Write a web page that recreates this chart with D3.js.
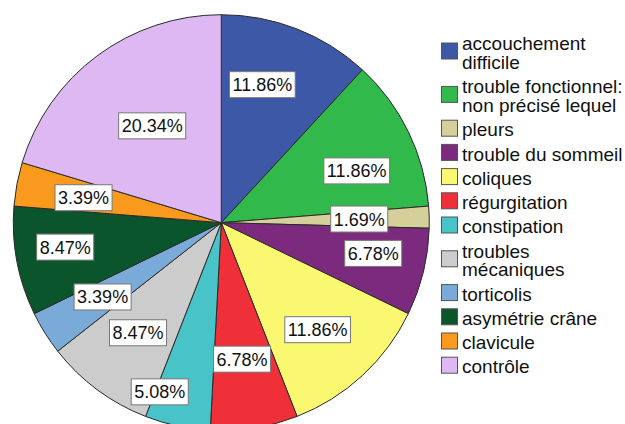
<!DOCTYPE html>
<html>
<head>
<meta charset="utf-8">
<script src="https://cdn.jsdelivr.net/npm/d3@7"></script>
<style>
  body { margin: 0; background: #fff; }
  svg { display: block; font-family: "Liberation Sans", Arial, sans-serif; }
</style>
</head>
<body>
<svg width="625" height="424"></svg>
<script>
// categories in clockwise order starting from 12 o'clock
var categories = [
  "accouchement difficile",
  "trouble fonctionnel: non précisé lequel",
  "pleurs",
  "trouble du sommeil",
  "coliques",
  "régurgitation",
  "constipation",
  "troubles mécaniques",
  "torticolis",
  "asymétrie crâne",
  "clavicule",
  "contrôle"
];
// legend wording (line breaks as in the chart)
var legendLines = [
  ["accouchement", "difficile"],
  ["trouble fonctionnel:", "non précisé lequel"],
  ["pleurs"],
  ["trouble du sommeil"],
  ["coliques"],
  ["régurgitation"],
  ["constipation"],
  ["troubles", "mécaniques"],
  ["torticolis"],
  ["asymétrie crâne"],
  ["clavicule"],
  ["contrôle"]
];
// counts (n = 59), shown as percentages
var counts = [7, 7, 1, 4, 7, 4, 3, 5, 2, 5, 2, 12];
var colors = ["#3e58a8", "#31b94c", "#d5d09a", "#7b2a7d", "#f9f870", "#ef3038",
              "#48c3c8", "#cccccc", "#7aaad8", "#0a552c", "#f99a1f", "#deb8f2"];

// label placement tweaks (angle in degrees, radius in px), layout only
var labelNudge = [
  {da: -4.8, r: 144}, {da: 5, r: 145}, {da: 0, r: 138}, {da: -2.3, r: 155},
  {da: 0.7, r: 144}, {da: 0.5, r: 138}, {da: 7.8, r: 180}, {da: 0.5, r: 138},
  {da: 0, r: 140}, {da: 1.8, r: 158}, {da: -0.4, r: 140}, {da: 1.1, r: 119}
];

var svg = d3.select("svg");
var cx = 221.3, cy = 222.7, R = 208;
var total = d3.sum(counts);
var fmt = d => (d / total * 100).toFixed(2) + "%";

var pie = d3.pie().sort(null).value(d => d)(counts);
var arc = d3.arc().innerRadius(0).outerRadius(R);

var g = svg.append("g").attr("transform", "translate(" + cx + "," + cy + ")");

g.selectAll("path.slice")
  .data(pie).enter().append("path")
  .attr("class", "slice")
  .attr("d", arc)
  .attr("fill", (d, i) => colors[i])
  .attr("stroke", "#2b2b2b")
  .attr("stroke-width", 1)
  .attr("stroke-linejoin", "round");

// percentage labels in white boxes
var lab = g.selectAll("g.lab")
  .data(pie).enter().append("g")
  .attr("class", "lab")
  .attr("transform", (d, i) => {
    var a = (d.startAngle + d.endAngle) / 2 + labelNudge[i].da * Math.PI / 180;
    var r = labelNudge[i].r;
    return "translate(" + (r * Math.sin(a)) + "," + (-r * Math.cos(a)) + ")";
  });

lab.append("rect");
lab.append("text")
  .attr("text-anchor", "middle")
  .attr("y", 6.5)
  .attr("font-size", 18)
  .attr("fill", "#111")
  .text(d => fmt(d.data));

lab.each(function() {
  var t = d3.select(this).select("text");
  var w = t.node().getComputedTextLength() + 6;
  var h = 26;
  d3.select(this).select("rect")
    .attr("x", -w / 2).attr("y", -h / 2)
    .attr("width", w).attr("height", h)
    .attr("fill", "#fff")
    .attr("stroke", "#777")
    .attr("stroke-width", 1);
});

// legend
var lx = 441, sq = 17, lineH = 18.6, h1 = 24.2, h2 = 43.4;
var y = 51 - h2 / 2;
var legend = svg.append("g");
legendLines.forEach((lines, i) => {
  var h = lines.length > 1 ? h2 : h1;
  var c = y + h / 2;
  legend.append("rect")
    .attr("x", lx + 0.5).attr("y", c - sq / 2 + 0.5)
    .attr("width", sq - 1).attr("height", sq - 1)
    .attr("fill", colors[i])
    .attr("stroke", "#555")
    .attr("stroke-width", 1);
  var txt = legend.append("text")
    .attr("font-size", 19)
    .attr("fill", "#111");
  lines.forEach((s, k) => {
    txt.append("tspan")
      .attr("x", lx + 21)
      .attr("y", c + 8.2 + (k - (lines.length - 1) / 2) * lineH)
      .text(s);
  });
  y += h;
});
</script>
</body>
</html>
